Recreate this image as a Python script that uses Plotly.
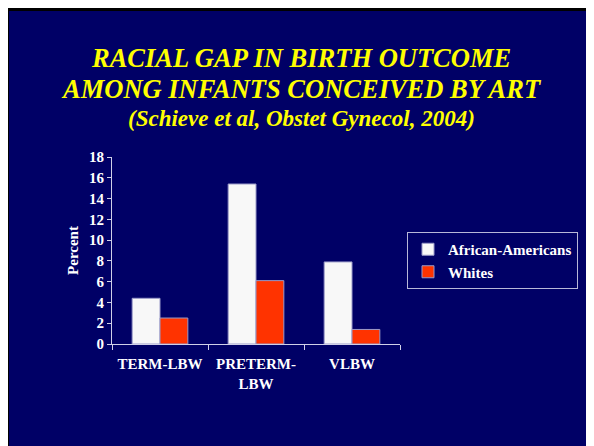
import plotly.graph_objects as go

categories = ["TERM-LBW", "PRETERM-<br>LBW", "VLBW"]
african_americans = [4.4, 15.4, 7.9]
whites = [2.5, 6.1, 1.4]
y_ticks = [0, 2, 4, 6, 8, 10, 12, 14, 16, 18]

# page places the figure 8px right/down; work in figure pixels
W, H = 594, 446
L, R, T, B = 104, 202, 149, 110
pw, ph = W - L - R, H - T - B

def px(x):
    return (x - L) / pw

def py(y):
    return (H - B - y) / ph

NAVY = "#000066"
SERIF = "Liberation Serif"
BI = dict(family=SERIF, weight="bold", style="italic", color="#FFFF00")

fig = go.Figure()
fig.add_trace(go.Bar(x=categories, y=african_americans, name="African-Americans",
                     marker=dict(color="#F8F8F8", line=dict(color="#9A9AC8", width=1))))
fig.add_trace(go.Bar(x=categories, y=whites, name="Whites",
                     marker=dict(color="#FF3300", line=dict(color="#9A9AC8", width=1))))

shapes = [
    dict(type="rect", xref="paper", yref="paper", x0=px(-5), x1=px(600), y0=py(-5), y1=py(450),
         fillcolor="black", line=dict(width=0), layer="below"),
    dict(type="rect", xref="paper", yref="paper", x0=px(1), x1=px(600), y0=py(3), y1=py(450),
         fillcolor=NAVY, line=dict(width=0), layer="below"),
]

annotations = [
    dict(text="RACIAL GAP IN BIRTH OUTCOME", x=px(293), y=py(50), xref="paper", yref="paper",
         showarrow=False, font=dict(size=26.5, **BI), xanchor="center", yanchor="middle"),
    dict(text="AMONG INFANTS CONCEIVED BY ART", x=px(293), y=py(81), xref="paper", yref="paper",
         showarrow=False, font=dict(size=26.5, **BI), xanchor="center", yanchor="middle"),
    dict(text="(Schieve et al, Obstet Gynecol, 2004)", x=px(293), y=py(110), xref="paper", yref="paper",
         showarrow=False, font=dict(size=23, **BI), xanchor="center", yanchor="middle"),
]

WB = dict(family=SERIF, weight="bold", color="white", size=15)

fig.update_layout(
    width=W, height=H,
    margin=dict(l=L, r=R, t=T, b=B, pad=0),
    paper_bgcolor="white",
    plot_bgcolor=NAVY,
    barmode="group",
    bargap=0.42,
    bargroupgap=0,
    shapes=shapes,
    annotations=annotations,
    showlegend=True,
    legend=dict(x=px(399), y=py(224), xanchor="left", yanchor="top",
                bgcolor=NAVY, bordercolor="#B8B8D8", borderwidth=1,
                font=WB, itemwidth=30, tracegroupgap=0),
    font=dict(family=SERIF, color="white"),
)
fig.update_yaxes(range=[0, 18], tickvals=y_ticks, showgrid=False, zeroline=False,
                 showline=True, linecolor="#D0D0E8", linewidth=1,
                 ticks="outside", ticklen=4, tickcolor="#D0D0E8",
                 tickfont=WB,
                 title=dict(text="Percent", font=WB, standoff=6))
fig.update_xaxes(showgrid=False, showline=True, linecolor="#D0D0E8", linewidth=1,
                 ticks="outside", ticklen=5, tickcolor="#D0D0E8", tickson="boundaries",
                 tickfont=WB, ticklabelstandoff=6)

fig.write_html("out.html")
